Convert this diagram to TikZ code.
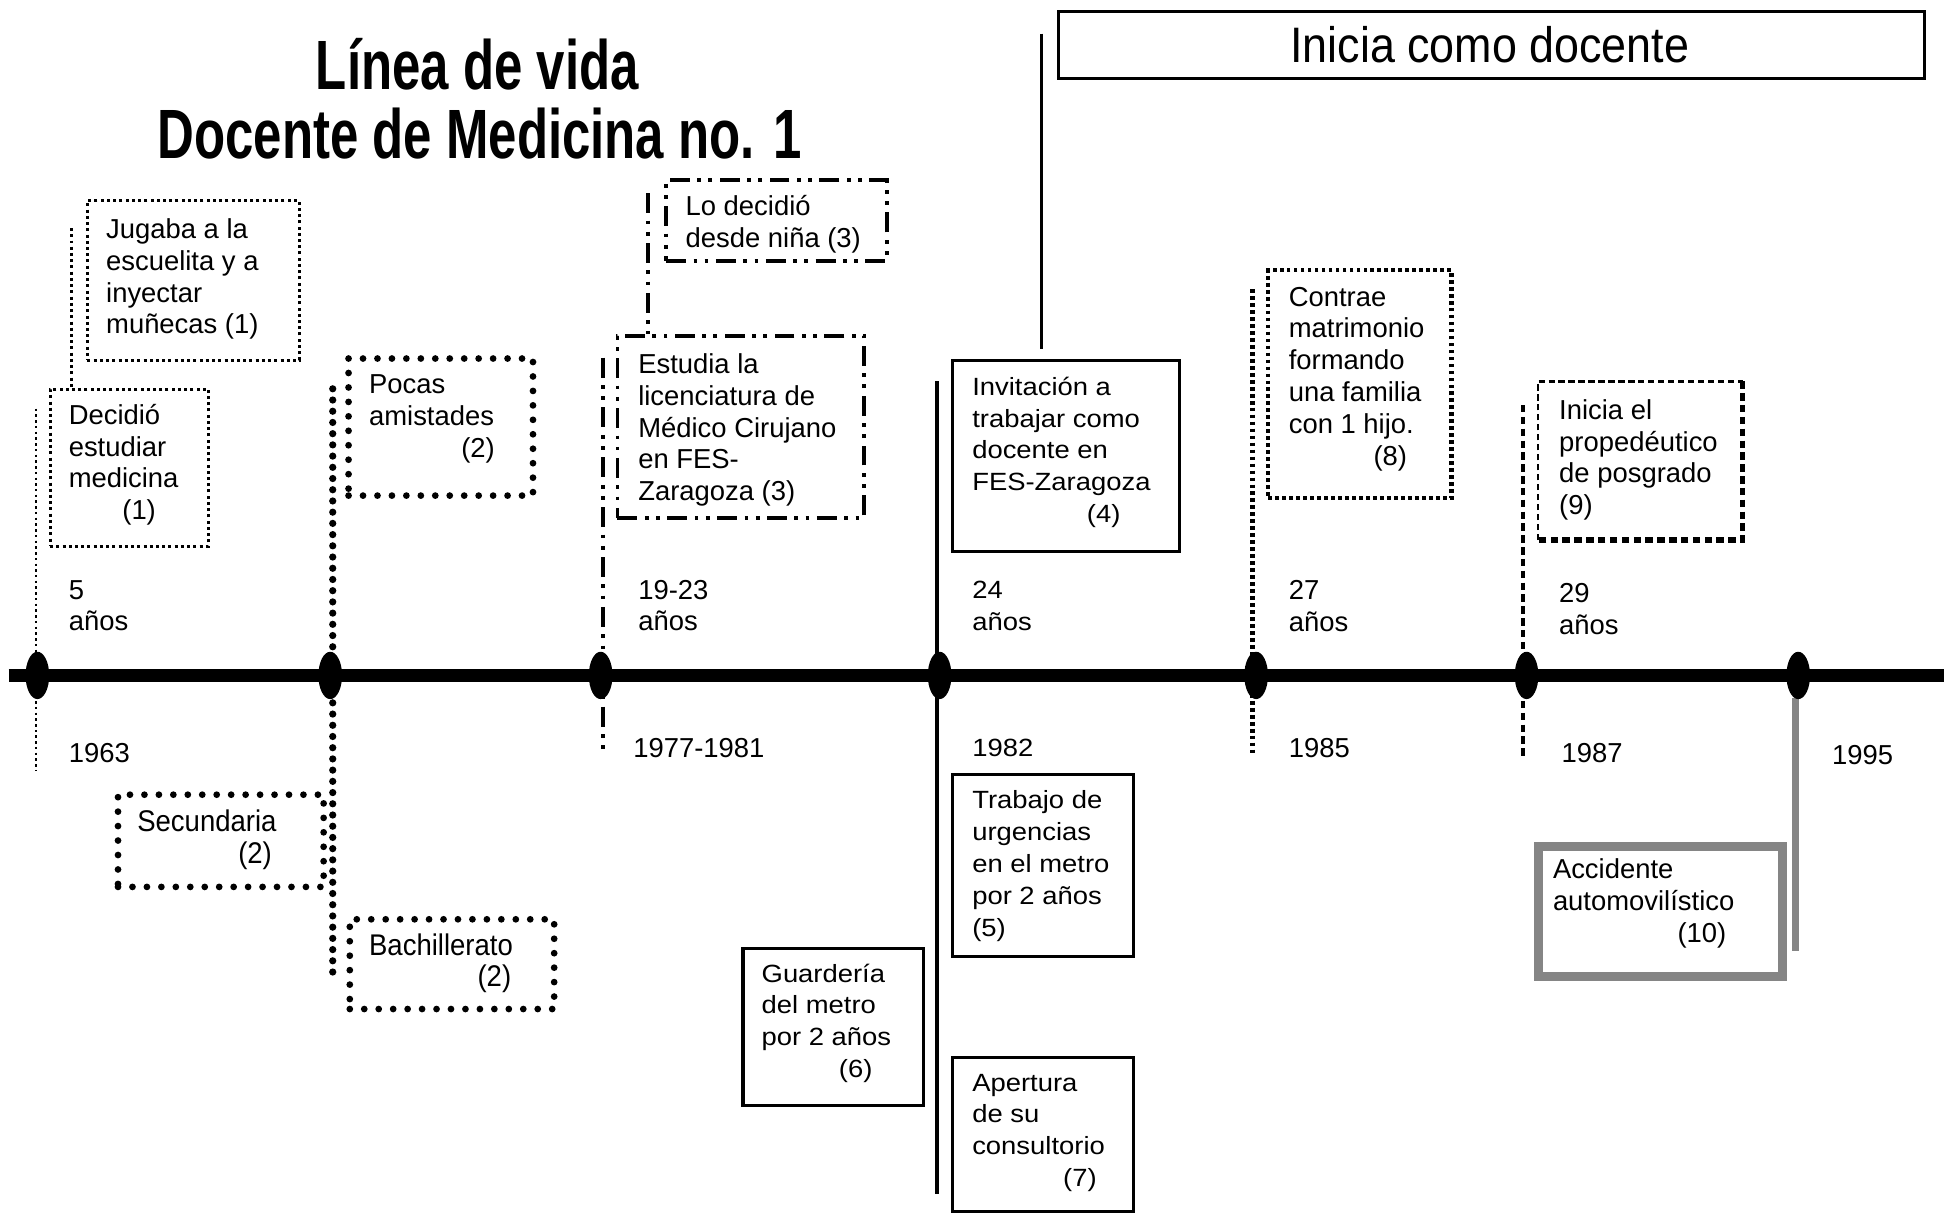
\documentclass[tikz,border=0pt]{standalone}
\usepackage{fontspec}
\setmainfont{Liberation Sans}
\newfontfamily\titlefont[FakeStretch=0.73]{Liberation Sans}
\newfontfamily\headfont[FakeStretch=0.9]{Liberation Sans}
\newfontfamily\widefont[FakeStretch=1.1]{Liberation Sans}
\newfontfamily\narrowfont[FakeStretch=0.92]{Liberation Sans}
\usetikzlibrary{shapes.geometric}
\tikzset{
  txt/.style={font=\fontsize{22}{25.5}\selectfont, align=left, inner sep=0pt, anchor=west},
  widetxt/.style={txt, font=\widefont\fontsize{20}{25.5}\selectfont},
  narrowtxt/.style={txt, font=\narrowfont\fontsize{24}{25.5}\selectfont},
  box/.style={rectangle, inner sep=0pt, anchor=north west},
  sqdot/.style={draw, line width=2.4pt, dash pattern=on 2.4pt off 2.6pt},
  thindot/.style={draw, line width=2pt, dash pattern=on 2pt off 2.6pt},
  rnddot/.style={draw, line width=5.4pt, line cap=round, dash pattern=on 0pt off 11.6pt},
  bigdot/.style={draw, line width=5.8pt, line cap=round, dash pattern=on 0pt off 9pt},
  dashdotdot/.style={draw, line width=3pt, dash pattern=on 16pt off 6pt on 3pt off 6pt on 3pt off 6pt},
  solidbox/.style={draw, line width=2.6pt},
  hatch/.style={draw, line width=3.5pt, dash pattern=on 3pt off 2.6pt},
  graybox/.style={draw=black!48, line width=7pt},
  tick/.style={ellipse, fill=black, minimum width=19pt, minimum height=38pt, inner sep=0pt},
}
\begin{document}
\begin{tikzpicture}[x=1pt,y=-1pt]
\useasboundingbox (0,0) rectangle (1568,973);

% title
\node[font=\titlefont\bfseries\fontsize{56}{60}\selectfont, anchor=base, inner sep=0pt] (t1) at (383,72) {Línea de vida};
\node[font=\titlefont\bfseries\fontsize{56}{60}\selectfont, anchor=base, inner sep=0pt] (t2) at (385,127) {Docente de Medicina no. 1};

% top box
\node[box, solidbox, minimum width=695pt, minimum height=54pt] (doc) at (848,8) {};
\node[font=\headfont\fontsize{40}{44}\selectfont, inner sep=0pt] (tdoc) at (1195.5,36) {Inicia como docente};

% connectors
\coordinate (c1a) at (29,328); \coordinate (c1b) at (29,618);
\coordinate (c2a) at (57,183); \coordinate (c2b) at (57,311);
\coordinate (c3a) at (267,312); \coordinate (c3b) at (267,780);
\coordinate (c4a) at (484,287); \coordinate (c4b) at (484,606);
\coordinate (c5a) at (520,155); \coordinate (c5b) at (520,268);
\coordinate (c6a) at (752,306); \coordinate (c6b) at (752,958);
\coordinate (c7a) at (836,27); \coordinate (c7b) at (836,280);
\coordinate (c8a) at (1005,232); \coordinate (c8b) at (1005,605);
\coordinate (c9a) at (1222,325); \coordinate (c9b) at (1222,608);
\coordinate (c10a) at (1441,560); \coordinate (c10b) at (1441,763);

\draw[thindot] (c1a) -- (c1b);
\draw[sqdot] (c2a) -- (c2b);
\draw[bigdot] (c3a) -- (c3b);
\draw[dashdotdot] (c4a) -- (c4b);
\draw[dashdotdot] (c5a) -- (c5b);
\draw[line width=3pt] (c6a) -- (c6b);
\draw[line width=2.5pt] (c7a) -- (c7b);
\draw[hatch] (c8a) -- (c8b);
\draw[line width=3.5pt, dash pattern=on 6pt off 3.5pt] (c9a) -- (c9b);
\draw[draw=black!48, line width=6pt] (c10a) -- (c10b);

% timeline
\coordinate (tl0) at (7,542); \coordinate (tl1) at (1560,542);
\draw[line width=10pt] (tl0) -- (tl1);
\node[tick] (e1) at (30,542) {};
\node[tick] (e2) at (265,542) {};
\node[tick] (e3) at (482,542) {};
\node[tick] (e4) at (754,542) {};
\node[tick] (e5) at (1008,542) {};
\node[tick] (e6) at (1225,542) {};
\node[tick] (e7) at (1443,542) {};

% boxes
\node[box, sqdot, minimum width=170pt, minimum height=128pt] (jug) at (69,160) {};
\node[txt] (tjug) at (85,224) {Jugaba a la\\escuelita y a\\inyectar\\muñecas (1)};

\node[box, sqdot, minimum width=127pt, minimum height=126pt] (dec) at (39,311) {};
\node[txt] (tdec) at (55,373) {Decidió\\estudiar\\medicina\\\hspace*{43pt}(1)};

\node[box, rnddot, minimum width=148pt, minimum height=110pt] (poc) at (277,285) {};
\node[txt] (tpoc) at (296,336) {Pocas\\amistades\\\hspace*{74pt}(2)};

\node[box, rnddot, minimum width=165pt, minimum height=74pt] (sec) at (92,635) {};
\node[narrowtxt] (tsec) at (110,674) {Secundaria\\\hspace*{81pt}(2)};

\node[box, rnddot, minimum width=164pt, minimum height=72pt] (bac) at (278,735) {};
\node[narrowtxt] (tbac) at (296,773) {Bachillerato\\\hspace*{87pt}(2)};

\node[box, dashdotdot, minimum width=177pt, minimum height=65pt] (lod) at (533,143) {};
\node[txt] (tlod) at (550,180) {Lo decidió\\desde niña (3)};

\node[box, dashdotdot, minimum width=198pt, minimum height=146pt] (est) at (494,268) {};
\node[txt] (test) at (512,345) {Estudia la\\licenciatura de\\Médico Cirujano\\en FES-\\Zaragoza (3)};

\node[box, solidbox, minimum width=182pt, minimum height=153pt] (inv) at (763,288) {};
\node[widetxt] (tinv) at (780,363) {Invitación a\\trabajar como\\docente en\\FES-Zaragoza\\\hspace*{92pt}(4)};

\node[box, solidbox, minimum width=145pt, minimum height=146pt] (tra) at (763,620) {};
\node[widetxt] (ttra) at (780,695) {Trabajo de\\urgencias\\en el metro\\por 2 años\\(5)};

\node[box, solidbox, minimum width=145pt, minimum height=126pt] (gua) at (595,760) {};
\node[widetxt] (tgua) at (611,821) {Guardería\\del metro\\por 2 años\\\hspace*{62pt}(6)};

\node[box, solidbox, minimum width=145pt, minimum height=124pt] (ape) at (763,847) {};
\node[widetxt] (tape) at (780,909) {Apertura\\de su\\consultorio\\\hspace*{73pt}(7)};

\node[box, hatch, minimum width=147pt, minimum height=183pt] (con) at (1016,215) {};
\node[txt] (tcon) at (1034,304) {Contrae\\matrimonio\\formando\\una familia\\con 1 hijo.\\\hspace*{68pt}(8)};

\node[box, minimum width=164pt, minimum height=127pt] (pro) at (1234,306) {};
\draw[line width=2pt, dash pattern=on 5pt off 3pt] (pro.south west) -- (pro.north west) -- (pro.north east);
\draw[line width=4.5pt, dash pattern=on 6pt off 3.5pt] (pro.north east) -- (pro.south east) -- (pro.south west);
\node[txt] (tpro) at (1251,369) {Inicia el\\propedéutico\\de posgrado\\(9)};

\node[box, graybox, minimum width=196pt, minimum height=104pt] (acc) at (1231,676) {};
\node[txt] (tacc) at (1246,725) {Accidente\\automovilístico\\\hspace*{100pt}(10)};

% labels
\node[txt] (a1) at (55,486) {5\\años};
\node[txt] (y1) at (55,604) {1963};
\node[txt] (a3) at (512,486) {19-23\\años};
\node[txt] (y3) at (508,600) {1977-1981};
\node[widetxt] (a4) at (780,486) {24\\años};
\node[widetxt] (y4) at (780,600) {1982};
\node[txt] (a5) at (1034,486.5) {27\\años};
\node[txt] (y5) at (1034,600) {1985};
\node[txt] (a6) at (1251,489) {29\\años};
\node[txt] (y6) at (1253,604) {1987};
\node[txt] (y7) at (1470,606) {1995};
\end{tikzpicture}
\end{document}
